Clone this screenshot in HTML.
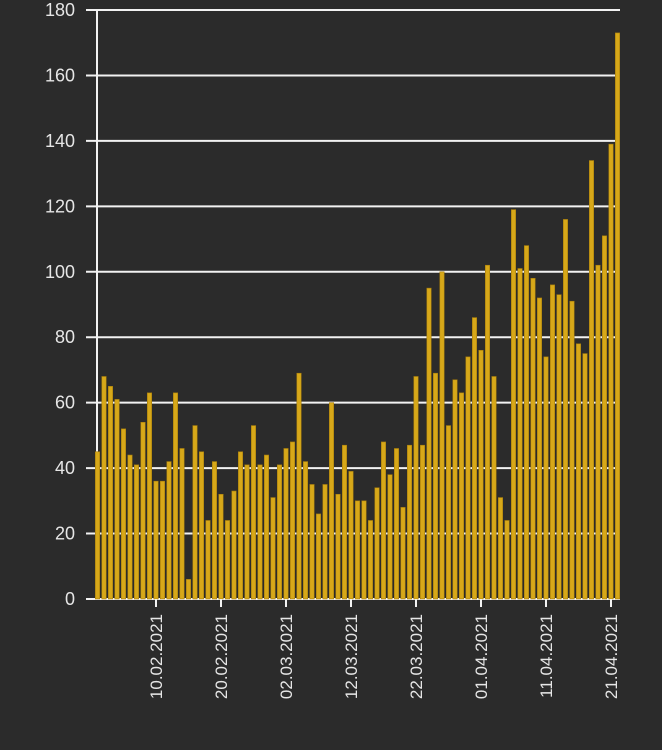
<!DOCTYPE html>
<html><head><meta charset="utf-8"><style>
html,body{margin:0;padding:0;background:#2b2b2b;}
svg{display:block;font-family:"Liberation Sans",sans-serif;}
</style></head><body>
<svg id="chart" width="662" height="750"></svg>
<script>
const values=[45,68,65,61,52,44,41,54,63,36,36,42,63,46,6,53,45,24,42,32,24,33,45,41,53,41,44,31,41,46,48,69,42,35,26,35,60,32,47,39,30,30,24,34,48,38,46,28,47,68,47,95,69,100,53,67,63,74,86,76,102,68,31,24,119,101,108,98,92,74,96,93,116,91,78,75,134,102,111,139,173];
const yTicks=[0,20,40,60,80,100,120,140,160,180];
const xTickIdx=[9,19,29,39,49,59,69,79];
const xTickLabels=["10.02.2021","20.02.2021","02.03.2021","12.03.2021","22.03.2021","01.04.2021","11.04.2021","21.04.2021"];
const NS="http://www.w3.org/2000/svg";
const svg=document.getElementById('chart');
const y0=599,yTop=10,yMax=180;
function y(v){return y0-(v/yMax)*(y0-yTop);}
const step=6.5,xStart=97.5;
function x(i){return xStart+i*step;}
function mk(t,a){const e=document.createElementNS(NS,t);for(const k in a)e.setAttribute(k,a[k]);svg.appendChild(e);return e;}
yTicks.forEach(v=>{
  const l=mk('line',{x1:86,x2:620,y1:y(v),y2:y(v),stroke:'#f2f2f2','stroke-width':2});
  
  
  const t=mk('text',{x:75,y:y(v)+6,'text-anchor':'end','font-size':18,fill:'#e6e6e6'});
  t.textContent=v;
  
  
});
const ax=mk('line',{x1:97,x2:97,y1:yTop,y2:y0+1,stroke:'#f2f2f2','stroke-width':2});


values.forEach((v,i)=>{
  const r=mk('rect',{x:x(i)-2.2,y:y(v),width:4.4,height:y0-y(v),fill:'#d7a819',stroke:'#a57c0c','stroke-width':0.6});
  
  
});
xTickIdx.forEach((idx,k)=>{
  const cx=x(idx);
  const tl=mk('line',{x1:cx,x2:cx,y1:y0,y2:y0+8,stroke:'#f2f2f2','stroke-width':2});
  
  
  const t=mk('text',{x:0,y:0,'text-anchor':'end','font-size':17,fill:'#e6e6e6',transform:'translate('+(cx+6)+',614) rotate(-90)'});
  t.textContent=xTickLabels[k];
  
  
});
</script>
</body></html>
